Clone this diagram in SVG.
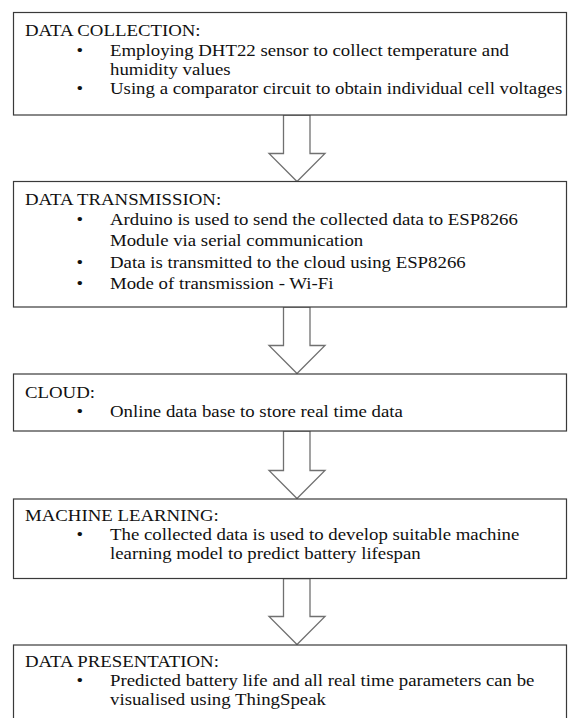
<svg xmlns="http://www.w3.org/2000/svg" width="568" height="718" viewBox="0 0 568 718">
<style>
.box{fill:#fff;stroke:#3a3a3a;stroke-width:1.2}
.arr{fill:#fff;stroke:#707070;stroke-width:1.3;stroke-linejoin:miter}
.t{font-family:"Liberation Serif","Times New Roman",serif;font-size:16.5px;fill:#111}
</style>
<rect width="568" height="718" fill="#fff"/>
<g id="connectors">
<path class="arr" d="M283.5,115 H310 V153.5 H325 L297,181.5 L269,153.5 H283.5 Z"/>
<path class="arr" d="M283.5,307 H310 V345.5 H325 L297,373.5 L269,345.5 H283.5 Z"/>
<path class="arr" d="M283.5,431 H310 V470.5 H325 L297,498.5 L269,470.5 H283.5 Z"/>
<path class="arr" d="M283.5,578.5 H310 V616.5 H325 L297,644.5 L269,616.5 H283.5 Z"/>
</g>
<g id="data-collection">
<rect class="box" x="13.5" y="12.5" width="553" height="102.5"/>
<text class="t" transform="translate(25,36) scale(1.14,1)">DATA COLLECTION:</text>
<text class="t" transform="translate(76.5,55.5) scale(1.14,1)">•</text>
<text class="t" transform="translate(110,55.5) scale(1.14,1)">Employing DHT22 sensor to collect temperature and</text>
<text class="t" transform="translate(110,74.5) scale(1.14,1)">humidity values</text>
<text class="t" transform="translate(76.5,93.5) scale(1.14,1)">•</text>
<text class="t" transform="translate(110,93.5) scale(1.14,1)">Using a comparator circuit to obtain individual cell voltages</text>
</g>
<g id="data-transmission">
<rect class="box" x="13.5" y="181.5" width="553" height="125.5"/>
<text class="t" transform="translate(25,205) scale(1.14,1)">DATA TRANSMISSION:</text>
<text class="t" transform="translate(76.5,225) scale(1.14,1)">•</text>
<text class="t" transform="translate(110,225) scale(1.14,1)">Arduino is used to send the collected data to ESP8266</text>
<text class="t" transform="translate(110,246) scale(1.14,1)">Module via serial communication</text>
<text class="t" transform="translate(76.5,267.5) scale(1.14,1)">•</text>
<text class="t" transform="translate(110,267.5) scale(1.14,1)">Data is transmitted to the cloud using ESP8266</text>
<text class="t" transform="translate(76.5,289) scale(1.14,1)">•</text>
<text class="t" transform="translate(110,289) scale(1.14,1)">Mode of transmission - Wi-Fi</text>
</g>
<g id="cloud">
<rect class="box" x="13.5" y="374" width="553" height="57"/>
<text class="t" transform="translate(25,397.5) scale(1.14,1)">CLOUD:</text>
<text class="t" transform="translate(76.5,416.5) scale(1.14,1)">•</text>
<text class="t" transform="translate(110,416.5) scale(1.14,1)">Online data base to store real time data</text>
</g>
<g id="machine-learning">
<rect class="box" x="13.5" y="499" width="553" height="79.5"/>
<text class="t" transform="translate(25,521) scale(1.14,1)">MACHINE LEARNING:</text>
<text class="t" transform="translate(76.5,540) scale(1.14,1)">•</text>
<text class="t" transform="translate(110,540) scale(1.14,1)">The collected data is used to develop suitable machine</text>
<text class="t" transform="translate(110,559) scale(1.14,1)">learning model to predict battery lifespan</text>
</g>
<g id="data-presentation">
<rect class="box" x="13.5" y="645" width="553" height="100"/>
<text class="t" transform="translate(25,667) scale(1.14,1)">DATA PRESENTATION:</text>
<text class="t" transform="translate(76.5,686) scale(1.14,1)">•</text>
<text class="t" transform="translate(110,686) scale(1.14,1)">Predicted battery life and all real time parameters can be</text>
<text class="t" transform="translate(110,705) scale(1.14,1)">visualised using ThingSpeak</text>
</g>
</svg>
